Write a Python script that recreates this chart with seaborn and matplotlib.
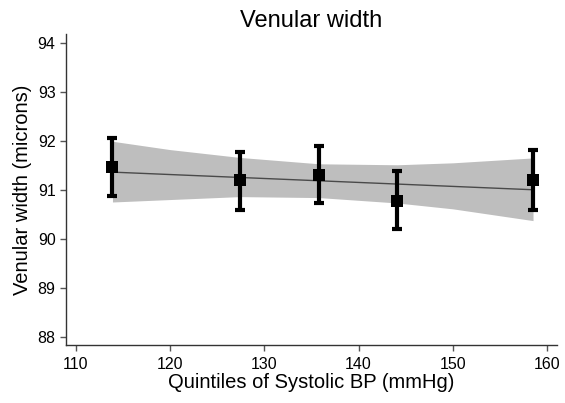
import matplotlib
matplotlib.use("Agg")
import matplotlib.pyplot as plt
import seaborn as sns
import numpy as np
import pandas as pd

# Data
sbp_quintile = [113.9, 127.4, 135.8, 144.1, 158.5]
venular_mean = [91.47, 91.19, 91.30, 90.78, 91.20]
ci_low = [90.87, 90.58, 90.73, 90.19, 90.59]
ci_high = [92.05, 91.78, 91.90, 91.38, 91.81]

fit_x = [113.9, 158.5]
fit_y = [91.36, 91.00]

band_x = [113.9, 120.0, 127.4, 135.8, 144.1, 150.0, 158.5]
band_low = [90.75, 90.80, 90.86, 90.84, 90.73, 90.61, 90.37]
band_high = [91.99, 91.82, 91.66, 91.53, 91.51, 91.55, 91.65]

xticks = [110, 120, 130, 140, 150, 160]
yticks = [88, 89, 90, 91, 92, 93, 94]

sns.set_theme(style="ticks")
plt.rcParams['font.family'] = ['Liberation Sans', 'DejaVu Sans']

fig = plt.figure(figsize=(5.65, 4.03), dpi=100)
ax = fig.add_axes([0.1168, 0.1439, 0.869, 0.7717])

pts = pd.DataFrame({"sbp": sbp_quintile, "vw": venular_mean})
fit = pd.DataFrame({"x": fit_x, "y": fit_y})

ax.fill_between(band_x, band_low, band_high, color="#bebebe", linewidth=0, zorder=1)
sns.lineplot(data=fit, x="x", y="y", ax=ax, color="#4a4a4a", linewidth=1.0, zorder=2)

yerr = [np.array(venular_mean) - np.array(ci_low), np.array(ci_high) - np.array(venular_mean)]
ax.errorbar(sbp_quintile, venular_mean, yerr=yerr, fmt="none", ecolor="black",
            elinewidth=3, capsize=3.6, capthick=3, zorder=3)
sns.scatterplot(data=pts, x="sbp", y="vw", ax=ax, marker="s", s=78, color="black",
                edgecolor="black", linewidth=0, zorder=4)

ax.set_xlim(108.97, 161.04)
ax.set_ylim(87.83, 94.18)
ax.set_xticks(xticks)
ax.set_yticks(yticks)
ax.set_xticklabels([str(t) for t in xticks])
ax.set_yticklabels([str(t) for t in yticks])

for s in ["top", "right"]:
    ax.spines[s].set_visible(False)
for s in ["left", "bottom"]:
    ax.spines[s].set_color("#333333")
    ax.spines[s].set_linewidth(1.0)
ax.tick_params(axis="both", direction="out", length=4.5, width=1, color="#555555",
               labelsize=11.5, labelcolor="black")
ax.tick_params(axis="x", pad=4.0)
ax.tick_params(axis="y", pad=3)

ax.set_title("Venular width", fontsize=17, color="black", pad=5)
ax.set_xlabel("Quintiles of Systolic BP (mmHg)", fontsize=14.5, color="black", labelpad=0.5)
ax.set_ylabel("Venular width (microns)", fontsize=14.5, color="black", labelpad=4)

fig.savefig("out.png", dpi=100)
